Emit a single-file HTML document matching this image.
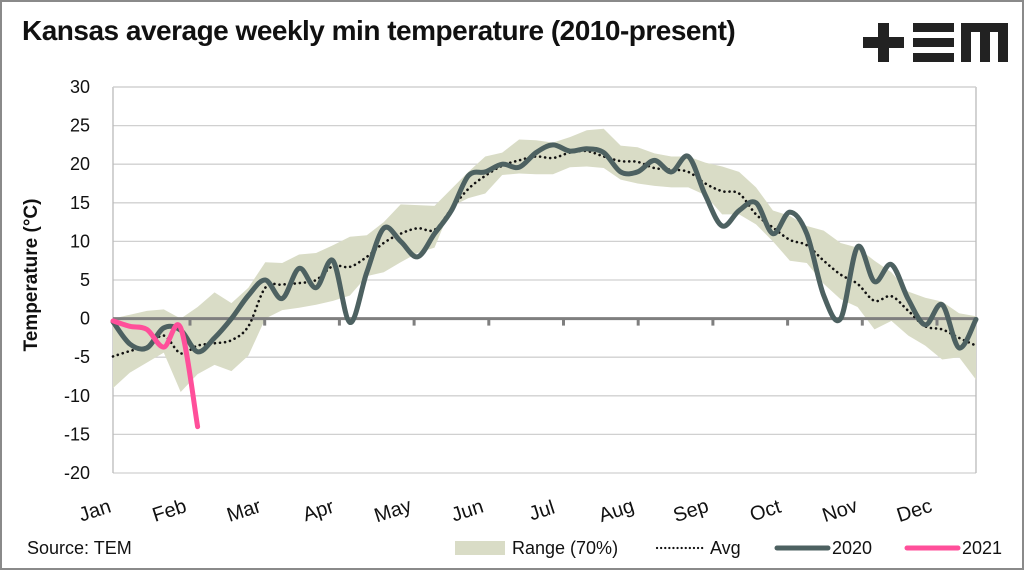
<!DOCTYPE html>
<html><head><meta charset="utf-8"><style>
html,body{margin:0;padding:0;background:#fff;}
#wrap{position:relative;width:1024px;height:570px;overflow:hidden;font-family:"Liberation Sans Narrow","Liberation Sans",sans-serif;}
#frame{position:absolute;left:0;top:0;width:1020px;height:566px;border:2px solid #8a8a8a;}
#title{position:absolute;left:22px;top:15px;font-size:28px;font-weight:bold;color:#111;letter-spacing:-0.5px;}
.lg{position:absolute;background:#222;}
</style></head><body>
<div id="wrap">
<div id="frame"></div>
<div id="title">Kansas average weekly min temperature (2010-present)</div>
<div>
 <div class="lg" style="left:863px;top:37px;width:41px;height:11px"></div>
 <div class="lg" style="left:878px;top:23px;width:11px;height:39px"></div>
 <div class="lg" style="left:913px;top:23px;width:41px;height:9px"></div>
 <div class="lg" style="left:913px;top:38px;width:41px;height:9px"></div>
 <div class="lg" style="left:913px;top:53px;width:41px;height:9px"></div>
 <div class="lg" style="left:961px;top:23px;width:47px;height:9px"></div>
 <div class="lg" style="left:961px;top:23px;width:10px;height:39px"></div>
 <div class="lg" style="left:980px;top:23px;width:10px;height:39px"></div>
 <div class="lg" style="left:998px;top:23px;width:10px;height:39px"></div>
</div>
<svg id="chart" width="1024" height="570" style="position:absolute;left:0;top:0"></svg>
</div>
<script>
const months=["Jan","Feb","Mar","Apr","May","Jun","Jul","Aug","Sep","Oct","Nov","Dec"];
const yTicks=[30,25,20,15,10,5,0,-5,-10,-15,-20];
const s2020=[-0.4,-3.3,-3.8,-1.2,-1.5,-4.3,-2.5,0,3,5,2.6,6.5,4,7.5,-0.5,6,11.7,10,8,11,14,18.5,19,20,19.6,21.5,22.5,21.7,22,21.5,19,19,20.5,19,21,16,12,14,15,11,13.8,11,3,0,9.3,4.8,7,2.5,-0.8,1.8,-3.8,-0.1];
const s2021=[-0.3,-1,-1.4,-3.7,-1.2,-14];
const avg=[-4.9,-4.2,-3.6,-2.2,-4.5,-3.5,-3.2,-2.8,-1,4,4.4,4.6,5,6.8,6.7,8,9.8,11,11.7,11.5,14.2,16.8,18.5,19.8,20.5,21,20.8,21.5,21.7,21,20.4,20.3,19.5,19.3,19,17.5,16.5,16.2,13.5,11.8,10.2,9.5,7.5,5.7,4.5,2.3,2.9,1,-1,-1.4,-2.5,-3.5];
const rangeHi=[0,0.5,1,1.2,0,1.5,3.4,2,4,7.3,7.2,8.3,8.5,9.5,10.6,10.8,12.5,14.8,14.7,14.6,16.8,19,21,21.5,23.2,23.1,22.8,23.5,24.4,24.6,22.4,22.2,21.4,21,21,20.2,19.7,19,17,14,13.3,12,11.4,9.8,9.2,7.5,6,3.5,2.7,2.2,0.7,0.3];
const rangeLo=[-9,-7,-5.7,-4.4,-9.5,-7.2,-6,-6.8,-4.8,0,1.1,1.4,1.8,2.3,3,5.5,6,7.3,8.5,9.2,14.5,15.6,16.2,18.6,18.8,18.7,18.7,19.6,19.7,19.5,18,17.5,17.2,17,17,16,13.5,13.5,12.2,10,7.5,7.2,4.5,2.5,1.5,-1.4,-0.3,-2.2,-3.5,-5.3,-5,-7.9];

const NS="http://www.w3.org/2000/svg";
const svg=document.getElementById('chart');
const L=113,R=976,T=87,B=473,N=52;
const xS=i=>L+i*(R-L)/(N-1);
const yS=v=>T+(30-v)*(B-T)/50;
function mk(tag,attrs,parent){const e=document.createElementNS(NS,tag);for(const k in attrs)e.setAttribute(k,attrs[k]);(parent||svg).appendChild(e);return e;}
function smooth(vals){const p=vals.map((v,i)=>[xS(i),yS(v)]);let d=`M${p[0][0]},${p[0][1]}`;
 for(let i=0;i<p.length-1;i++){const p0=p[Math.max(0,i-1)],p1=p[i],p2=p[i+1],p3=p[Math.min(p.length-1,i+2)];
 const c1=[p1[0]+(p2[0]-p0[0])/6,p1[1]+(p2[1]-p0[1])/6],c2=[p2[0]-(p3[0]-p1[0])/6,p2[1]-(p3[1]-p1[1])/6];
 d+=` C${c1[0]},${c1[1]} ${c2[0]},${c2[1]} ${p2[0]},${p2[1]}`;}return d;}

yTicks.forEach(v=>{
 if(v!==0){const g=mk('line',{x1:L,x2:R,y1:yS(v),y2:yS(v),stroke:'#d0d0d0','stroke-width':1.3});
 
 }
 const t=mk('text',{x:90,y:yS(v)+6,'text-anchor':'end','font-size':18,fill:'#111'});t.textContent=v;
 
 
});
const ax=mk('line',{x1:L,x2:L,y1:T,y2:B,stroke:'#bbb','stroke-width':1.3});


const rb=mk('line',{x1:R,x2:R,y1:T,y2:B,stroke:'#bbb','stroke-width':1.3});


const tb=mk('line',{x1:L,x2:R,y1:T,y2:T,stroke:'#d0d0d0','stroke-width':1.3});



let bd='M'+rangeHi.map((v,i)=>`${xS(i)},${yS(v)}`).join(' L');
bd+=' L'+rangeLo.map((v,i)=>`${xS(i)},${yS(v)}`).reverse().join(' L')+' Z';
const band=mk('path',{d:bd,fill:'#d9dcc6'});



const zl=mk('line',{x1:L,x2:R,y1:yS(0),y2:yS(0),stroke:'#7f7f7f','stroke-width':3});


for(let i=0;i<11;i++){const tx=190+i*74.7;
 const tk=mk('line',{x1:tx,x2:tx,y1:yS(0),y2:yS(0)+7,stroke:'#7f7f7f','stroke-width':3});
 
 }

const av=mk('path',{d:smooth(avg),fill:'none',stroke:'#111','stroke-width':2.6,'stroke-dasharray':'0.1 5','stroke-linecap':'round'});


const l20=mk('path',{d:smooth(s2020),fill:'none',stroke:'#4d6161','stroke-width':5,'stroke-linecap':'round','stroke-linejoin':'round'});


const l21=mk('path',{d:smooth(s2021),fill:'none',stroke:'#ff4f9a','stroke-width':5,'stroke-linecap':'round','stroke-linejoin':'round'});



months.forEach((m,i)=>{const cx=95+i*74.5,cy=517;
 const t=mk('text',{x:cx,y:cy,'text-anchor':'middle','font-size':20,fill:'#111',transform:`rotate(-18 ${cx} ${cy-6})`});t.textContent=m;
 
 });

const yt=mk('text',{x:0,y:0,'text-anchor':'middle','font-size':19,'font-weight':'bold',fill:'#111',transform:'translate(37,275) rotate(-90)'});
yt.textContent='Temperature (°C)';



const src=mk('text',{x:27,y:554,'font-size':18,fill:'#111'});src.textContent='Source: TEM';



const lr=mk('rect',{x:455,y:541,width:50,height:14,fill:'#d9dcc6'});


const lt1=mk('text',{x:512,y:554,'font-size':18,fill:'#111'});lt1.textContent='Range (70%)';


const ld=mk('line',{x1:657,x2:703,y1:548,y2:548,stroke:'#111','stroke-width':2.2,'stroke-dasharray':'0.1 4','stroke-linecap':'round'});


const lt2=mk('text',{x:710,y:554,'font-size':18,fill:'#111'});lt2.textContent='Avg';


const ls1=mk('line',{x1:777,x2:828,y1:548,y2:548,stroke:'#4d6161','stroke-width':5,'stroke-linecap':'round'});


const lt3=mk('text',{x:832,y:554,'font-size':18,fill:'#111'});lt3.textContent='2020';


const ls2=mk('line',{x1:907,x2:958,y1:548,y2:548,stroke:'#ff4f9a','stroke-width':5,'stroke-linecap':'round'});


const lt4=mk('text',{x:962,y:554,'font-size':18,fill:'#111'});lt4.textContent='2021';


</script>
</body></html>
